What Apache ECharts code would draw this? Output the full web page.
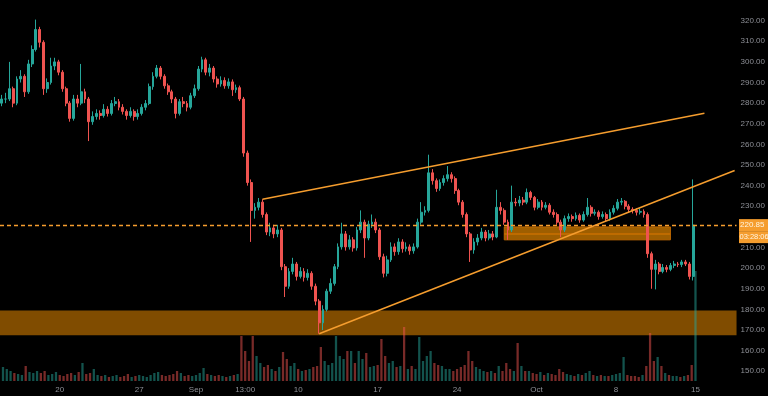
<!DOCTYPE html>
<html><head><meta charset="utf-8">
<script src="https://cdn.jsdelivr.net/npm/echarts@6/dist/echarts.min.js"></script>
<style>html,body{margin:0;padding:0;background:#000}#c{width:768px;height:396px}</style>
</head><body><div id="c"></div>
<script>
// 8-hour candles, Aug 15 00:00 -> Oct 15 00:00
const opens=[280,282,282,287,280,291.7,293,285.5,299,306,
315.7,309.5,287,290,298,300,295,287,280,272.6,
282,280,285.5,282,271,273.5,275,274,277,275,
279.8,280.7,278,276,274,276,273.5,275,278,279.8,
288,293,297,293,288.4,285.5,282,275,280.7,279.8,
278,283.6,287,296.5,301,295,297,291.7,289.3,291,
288.4,290.3,286.5,287.5,282,255.8,241.5,228,229.5,232,
226,217.5,219.5,216.6,218.5,200.7,191.2,198.4,202,196,
198.4,195.5,197.5,191.2,184,173.5,180,188.8,192.6,200.7,
210.3,216.6,210.3,213.7,209.8,218.5,222.3,214.6,221.3,222.3,
218.5,205.5,197.5,204,210.3,208,212.7,209.4,210.3,208.4,
210.3,222.3,227.1,228,246.2,242.4,238.6,241.5,243.4,245.3,
243.4,237.6,232,226,216.6,208.8,212.7,214.6,217.5,214.6,
216.6,215.1,229.5,228,222.3,218.5,232,231.6,233,232,
236.7,234.3,229.5,232,229.5,230.5,227.1,226,222.3,218.5,
224,225,224,225.6,223.3,226,229.5,226.6,227.1,225,
226,224,227.1,229,232,232.4,230,228.5,228,227.1,
227.5,226,207,199.4,202,198.4,200.3,199.4,201.3,202,
201.7,203,202,196];
const closes=[282,282,287,280,291.7,293,285.5,299,306,315.7,
309.5,287,290,298,300,295,287,280,272.6,282,
280,285.5,282,271,273.5,275,274,277,275,279.8,
280.7,278,276,274,276,273.5,275,278,279.8,288,
293,297,293,288.4,285.5,282,275,280.7,279.8,278,
283.6,287,296.5,301,295,297,291.7,289.3,291,288.4,
290.3,286.5,287.5,282,255.8,241.5,228,229.5,232,226,
217.5,219.5,216.6,218.5,200.7,191.2,198.4,202,196,198.4,
195.5,197.5,191.2,184,173.5,180,188.8,192.6,200.7,210.3,
216.6,210.3,213.7,209.8,218.5,222.3,214.6,221.3,222.3,218.5,
205.5,197.5,204,210.3,208,212.7,209.4,210.3,208.4,210.3,
222.3,227.1,228,246.2,242.4,238.6,241.5,243.4,245.3,243.4,
237.6,232,226,216.6,208.8,212.7,214.6,217.5,214.6,216.6,
215.1,229.5,228,222.3,218.5,232,231.6,233,232,236.7,
234.3,229.5,232,229.5,230.5,227.1,226,222.3,218.5,224,
225,224,225.6,223.3,226,229.5,226.6,227.1,225,226,
224,227.1,229,232,232.4,230,228.5,228,227.1,227.5,
226,207,199.4,202,198.4,200.3,199.4,201.3,202,201.7,
203,202,196,220.85];
const lows=[278.5,280,281,278,279,290,283,284.5,297.5,305,
307,284,285,289,296,293.5,285.5,278.5,271,271.5,
278,279,280,261.6,269.5,272,272,273,273.5,274,
278.5,276.5,274.5,272,273,271.5,272,274,276.5,279,
286.5,292,291.5,287,284,280,272.6,274,278,276,
277,282.5,286,295,293.5,293,290,287.5,288,287,
287,283.5,285,281,254,240,212.7,224,228,224.5,
216,215.5,214.5,215,199,186,190,197,194,195,
193.5,194,189.5,182,168.2,170,179,187.5,191.5,199.5,
209,208.5,209,208,208.5,217,205,213.5,219.5,217,
204,195.5,196,203,206,206.5,207.5,208,206.5,207,
209.5,221,225.5,227,240.5,237,237.5,240,242,241.5,
236,230.5,224.5,215,203,207,211,213.5,213,213.5,
213.5,214.5,226,221,213.7,217.5,230,230,230.5,231,
233,228,228.5,228,228.5,226,224.5,221,215,217.5,
222.5,222.5,223,222,222.5,225,225,225.5,223.5,224,
222.5,223,226,228,230.5,228.5,227,226.5,225.5,226,
224.5,205,190,189.7,197,197.5,198,198.5,200,200.5,
200.5,201,194.5,194];
const highs=[284,285,300,288,293,296,294,301,308,320.5,
317,310.5,292,302,302,301,296,288,281,284,
284,299,287,283,276,277,276.5,279.5,278.5,281.5,
283,282,279.5,277,278,277,277,279.5,281.5,289.5,
295,298.5,298,294,289.5,286.5,283,282,283,281,
285,289,298,302.5,302,299,298,293,293,292.5,
292,291.5,289,288.5,283,257,243,231.5,234,233.4,
227,222,221,221,219.5,202,200,205,203,200.5,
200,199.5,198.5,192.5,185,182,190,195,202,212,
222,218,216,215,220,228,223.5,223,226,224,
219.5,207,206,212.5,212,214.5,214,212.5,211.5,212,
224,232,230,255,248,243.5,243,245,249.5,246.5,
244.5,238.5,233,227,217.5,214.5,216.5,219.5,218.5,218.5,
218,238,232,229,223.5,240,234,235,234.5,238.6,
237.5,235,233.5,233,232,231.5,228.5,227,223.5,225.5,
226.5,226,227,226.5,227.5,234,230.5,228.5,228,227.5,
227,228.5,230.5,233.5,234,233,231,229.5,229,229,
228.5,227,208,204,203,202,201.5,202.5,203.5,203,
204,204,203,243];
const volumes=[14,12,10,8,7,6,15,9,8,10,
8,10,6,7,9,6,5,7,8,6,
9,18,7,8,12,6,5,6,4,5,
6,4,5,7,4,5,6,5,4,6,
8,9,6,5,6,7,10,8,5,6,
5,6,8,13,7,6,5,6,5,4,
5,6,7,45,30,20,45,25,18,14,
16,12,10,14,29,22,15,18,12,10,
11,12,14,15,34,20,16,18,45,25,
22,30,30,18,30,22,28,14,15,16,
42,25,18,20,14,15,54,12,15,12,
44,20,25,30,18,16,15,12,12,10,
12,14,16,30,20,14,12,10,9,10,
8,15,10,18,12,10,38,15,10,10,
8,7,9,6,8,7,6,12,9,7,
6,5,7,6,8,10,6,5,6,5,
5,6,7,8,24,6,5,5,4,6,
15,48,20,24,15,8,6,5,5,4,
5,6,16,110];
const tickIndex=[15,36,51,64,78,99,120,141,162,183];
const tickText=['20','27','Sep','13:00','10','17','24','Oct','8','15'];
const lastPrice=220.85;
const countdown='03:28:06';
const upperTrend=[[69,233.4],[186,275.1]];
const lowerTrend=[[84,168.2],[194,247.3]];
const demandZone=[167.5,179.5];
const resistZones=[[133,177,216.6,220.0],[133,177,213.7,216.6]];
const totalSlots=195;

const cats=[];
const t0=Date.UTC(2018,7,15,0,0);
const mon=['Jan','Feb','Mar','Apr','May','Jun','Jul','Aug','Sep','Oct','Nov','Dec'];
for(let i=0;i<totalSlots;i++){const d=new Date(t0+i*8*3600e3);cats.push(mon[d.getUTCMonth()]+' '+d.getUTCDate()+' '+String(d.getUTCHours()).padStart(2,'0')+':00');}
const ohlc=closes.map((c,i)=>[opens[i],c,lows[i],highs[i]]);
const UP='#26a69a',DOWN='#ef5350',ORANGE='#f59d2e',TXT='#8d8f96';
const FONT="'Liberation Sans', Arial, sans-serif";

const chart=echarts.init(document.getElementById('c'),null,{renderer:'canvas'});
chart.setOption({
  backgroundColor:'#000000',
  animation:false,
  grid:[{left:0,right:29,top:-4.88,bottom:4.12},{left:0,right:29,top:231,bottom:15}],
  xAxis:[
    {type:'category',gridIndex:0,data:cats,axisLine:{show:false},axisTick:{show:false},axisLabel:{show:false},splitLine:{show:false}},
    {type:'category',gridIndex:1,data:cats,axisLine:{show:false},axisTick:{show:false},splitLine:{show:false},
     axisLabel:{interval:0,color:TXT,fontSize:8,fontFamily:FONT,margin:5,
       formatter:(v,i)=>{const k=tickIndex.indexOf(i);return k>=0?tickText[k]:'';}}}
  ],
  yAxis:[
    {type:'value',gridIndex:0,position:'right',min:140,max:330,interval:10,scale:true,
     axisLine:{show:false},axisTick:{show:false},splitLine:{show:false},
     axisLabel:{color:TXT,fontSize:8,fontFamily:FONT,margin:4,formatter:v=>(v<150||v>320)?'':v.toFixed(2)}},
    {type:'value',gridIndex:1,min:0,max:150,show:false,splitLine:{show:false}}
  ],
  series:[
    {type:'bar',name:'Volume',xAxisIndex:1,yAxisIndex:1,barWidth:'60%',z:1,
     data:volumes.map((v,i)=>({value:v,itemStyle:{color:closes[i]>=opens[i]?'rgba(38,166,154,0.5)':'rgba(239,83,80,0.5)'}}))},
    {type:'candlestick',name:'Price',xAxisIndex:0,yAxisIndex:0,barWidth:'62%',z:3,data:ohlc,
     itemStyle:{color:UP,color0:DOWN,borderColor:UP,borderColor0:DOWN,borderWidth:1},
     markArea:{silent:true,data:[
       [{yAxis:demandZone[0],itemStyle:{color:'rgba(255,152,0,0.5)'}},{yAxis:demandZone[1]}],
       ...resistZones.map(z=>[{xAxis:z[0],yAxis:z[2],itemStyle:{color:'rgba(255,152,0,0.62)',borderColor:'rgba(200,110,0,0.9)',borderWidth:1}},{xAxis:z[1],yAxis:z[3]}])
     ]},
     markLine:{silent:true,symbol:['none','none'],animation:false,
       lineStyle:{color:ORANGE,width:1.5,type:'solid',opacity:1},
       label:{show:false},
       data:[
       [{coord:upperTrend[0]},{coord:upperTrend[1]}],
       [{coord:lowerTrend[0]},{coord:lowerTrend[1]}]
     ]}
    },
    {type:'line',name:'Last',xAxisIndex:0,yAxisIndex:0,data:[],z:4,color:ORANGE,
     markLine:{silent:true,symbol:['none','none'],animation:false,label:{show:false},
       lineStyle:{color:ORANGE,width:1.3,type:[4,3],opacity:1},
       itemStyle:{color:ORANGE},
       data:[{yAxis:lastPrice}]}}
  ]
});
const yPix=chart.convertToPixel({yAxisIndex:0},lastPrice);
const boxFont="8px 'Liberation Sans', Arial, sans-serif";
chart.setOption({graphic:[
  {type:'rect',left:739,top:yPix-6,z:100,shape:{width:29,height:12},style:{fill:ORANGE}},
  {type:'text',left:740,top:yPix-4.5,z:101,style:{text:lastPrice.toFixed(2),fill:'#fff4e0',font:boxFont}},
  {type:'rect',left:739,top:yPix+6,z:100,shape:{width:29,height:12},style:{fill:ORANGE}},
  {type:'text',left:739.5,top:yPix+7.5,z:101,style:{text:countdown,fill:'#fff4e0',font:"7.5px 'Liberation Sans', Arial, sans-serif"}}
]});
</script></body></html>
